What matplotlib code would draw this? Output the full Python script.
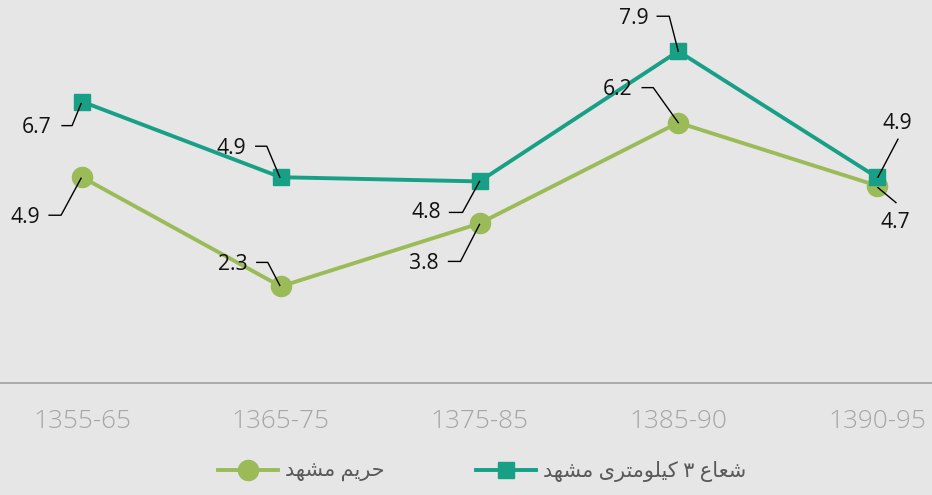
import matplotlib
matplotlib.use('Agg')
import matplotlib.pyplot as plt
from matplotlib.lines import Line2D
from matplotlib.transforms import IdentityTransform
import numpy as np

periods = ['1355-65', '1365-75', '1375-85', '1385-90', '1390-95']
series_names = ['حریم مشهد', 'شعاع ۳ کیلومتری مشهد']
core_values = [4.9, 2.3, 3.8, 6.2, 4.7]      # حریم مشهد
ring_values = [6.7, 4.9, 4.8, 7.9, 4.9]      # شعاع ۳ کیلومتری مشهد

GREEN = '#9bbb59'
TEAL = '#17a086'
BG = '#e6e6e6'

# minimal Persian shaping (matplotlib has no bidi / joining support)
FORMS = {
    'ح': '\uFEA1\uFEA2\uFEA3\uFEA4', 'ر': '\uFEAD\uFEAE\uFEAD\uFEAE',
    'ی': '\uFBFC\uFBFD\uFBFE\uFBFF', 'م': '\uFEE1\uFEE2\uFEE3\uFEE4',
    'ش': '\uFEB5\uFEB6\uFEB7\uFEB8', 'ه': '\uFEE9\uFEEA\uFEEB\uFEEC',
    'د': '\uFEA9\uFEAA\uFEA9\uFEAA', 'ع': '\uFEC9\uFECA\uFECB\uFECC',
    'ا': '\uFE8D\uFE8E\uFE8D\uFE8E', 'ک': '\uFB8E\uFB8F\uFB90\uFB91',
    'ل': '\uFEDD\uFEDE\uFEDF\uFEE0', 'و': '\uFEED\uFEEE\uFEED\uFEEE',
    'ت': '\uFE95\uFE96\uFE97\uFE98',
}
RIGHT_ONLY = set('اردو')


def shape(s):
    out = []
    for i, c in enumerate(s):
        if c not in FORMS:
            out.append(c)
            continue
        prev = s[i - 1] if i > 0 else ''
        nxt = s[i + 1] if i + 1 < len(s) else ''
        jp = prev in FORMS and prev not in RIGHT_ONLY
        jn = nxt in FORMS and c not in RIGHT_ONLY
        k = 3 if (jp and jn) else 1 if jp else 2 if jn else 0
        out.append(FORMS[c][k])
    return ''.join(out)[::-1]


plt.rcParams['font.family'] = ['Open Sans', 'DejaVu Sans']

W, H = 932, 495
fig = plt.figure(figsize=(W / 100, H / 100), dpi=100, facecolor=BG)
ax = fig.add_axes([0, (H - 383) / H, 1, 383 / H], facecolor=BG)

x = np.arange(len(periods))
ax.plot(x, core_values, color=GREEN, lw=2.8, marker='o', ms=14.5, zorder=3)
ax.plot(x, ring_values, color=TEAL, lw=2.8, marker='s', ms=12, zorder=3)

ax.set_xlim(-0.413, 4.277)
ax.set_ylim(0, 9.12)
for s in ['top', 'left', 'right']:
    ax.spines[s].set_visible(False)
ax.spines['bottom'].set_color('#a6a6a6')
ax.spines['bottom'].set_linewidth(1.3)
ax.set_yticks([])
ax.set_xticks(x)
ax.set_xticklabels(periods, color='#a6a6a6', fontsize=18.8, fontweight='light')
ax.tick_params(axis='x', length=0, pad=19)

# label placement: text centre and leader line, in pixels from the marker (y down)
ring_layout = [((-45, 26), [(-20, 24), (-10, 24), (-1, 2)]),
               ((-49, -29), [(-25, -31), (-14, -31), (-1, 0)]),
               ((-53, 31), [(-30, 31), (-17, 31), (0, 0)]),
               ((-44, -33), [(-21, -35), (-9, -35), (0, 0)]),
               ((20, -54), [(21, -38), (1, 0)])]
core_layout = [((-57, 40), [(-33, 38), (-21, 38), (-1, 1)]),
               ((-48, -22), [(-24, -24), (-13, -24), (-1, -1)]),
               ((-56, 40), [(-31, 38), (-19, 38), (0, 1)]),
               ((-61, -33), [(-36, -35), (-25, -35), (0, 0)]),
               ((18, 37), [(1, 2), (19, 17)])]

fig.canvas.draw()
for vals, layout in [(ring_values, ring_layout), (core_values, core_layout)]:
    for xi, v, (toff, path) in zip(x, vals, layout):
        px, py = ax.transData.transform((xi, v))
        fig.text((px + toff[0]) / W, (py - toff[1]) / H, f'{v:.1f}',
                 ha='center', va='center', fontsize=15.2, color='#111111')
        lx = [px + p[0] for p in path]
        ly = [py - p[1] for p in path]
        fig.add_artist(Line2D(lx, ly, color='black', lw=1.0,
                              transform=IdentityTransform()))

handles = [Line2D([], [], color=GREEN, lw=2.8, marker='o', ms=14.5),
           Line2D([], [], color=TEAL, lw=2.8, marker='s', ms=12)]
leg = fig.legend(handles, [shape(n) for n in series_names], loc='center',
                 bbox_to_anchor=(0.517, 0.047), ncol=2, frameon=False,
                 fontsize=15, handlelength=2.9, handletextpad=0.3,
                 columnspacing=4.4, labelcolor='#595959')

fig.savefig('out.png', dpi=100, facecolor=BG)
